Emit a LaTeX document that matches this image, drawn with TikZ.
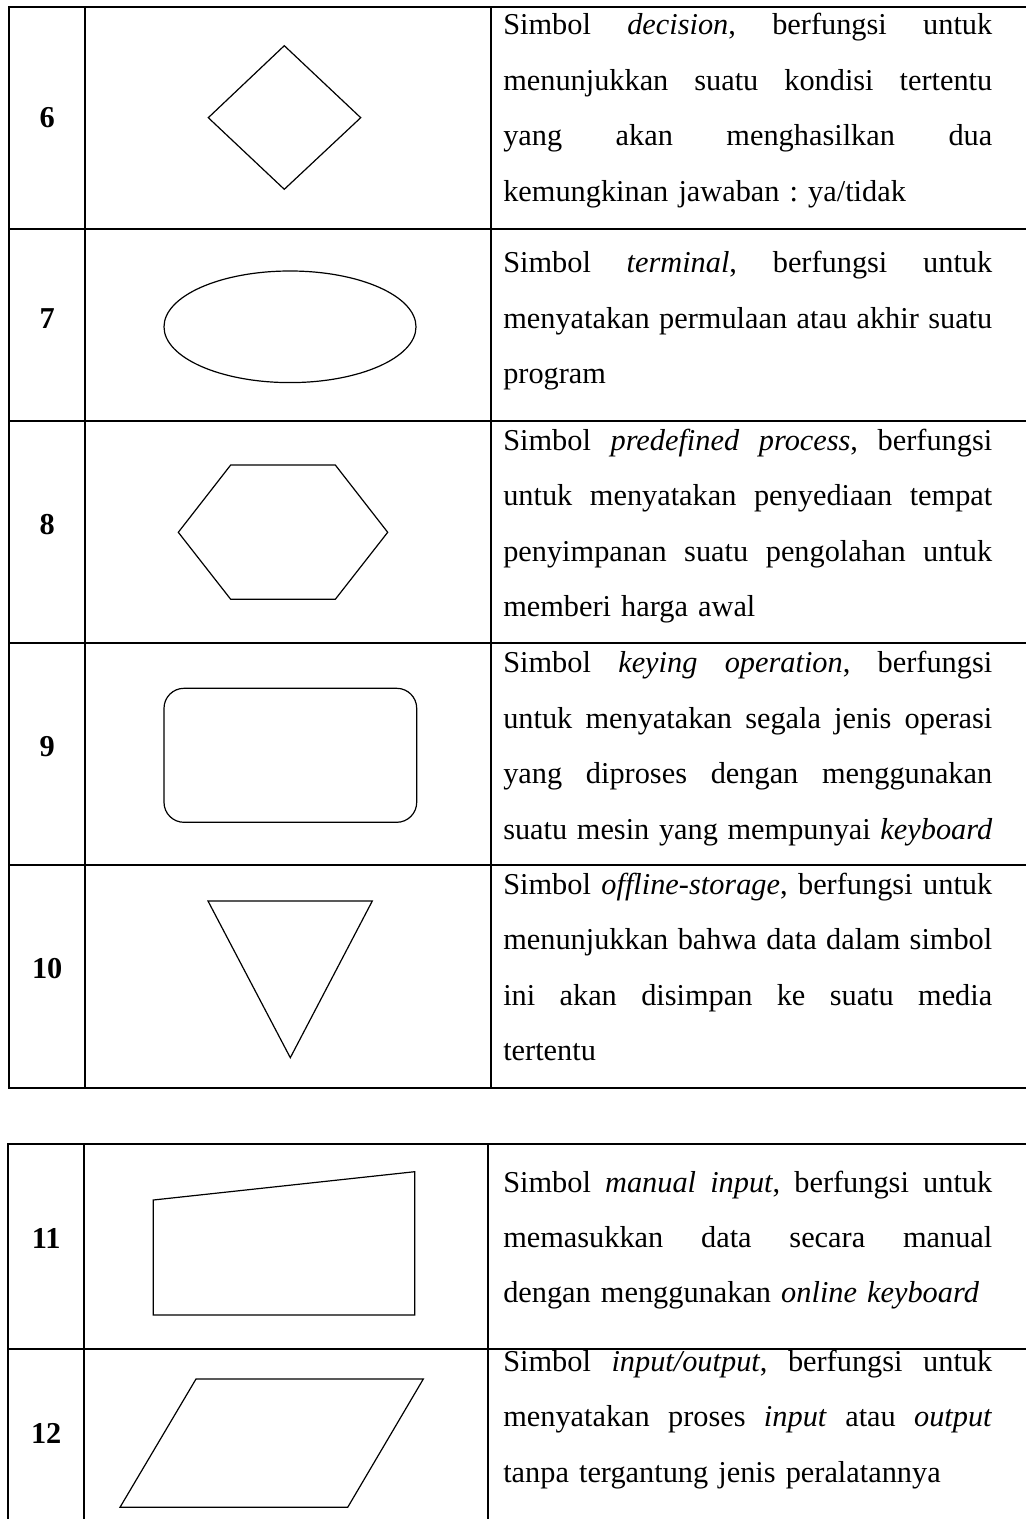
\documentclass[tikz,border=0pt]{standalone}
\usepackage{fontspec}
\setmainfont{Liberation Serif}
\newcommand\jl[1]{\leavevmode\hbox to 366.75pt{\spaceskip=0.25em plus 1fil minus 0.08em\xspaceskip=\spaceskip #1}}
\begin{document}
\begin{tikzpicture}[x=0.75pt,y=-0.75pt,
  grid/.style={line width=1.5pt,line cap=rect},
  shp/.style={line width=0.9pt,line join=miter},
  num/.style={font=\fontsize{22.75}{41.6}\selectfont\bfseries,inner sep=0pt,anchor=center},
  desc/.style={font=\fontsize{22.75}{41.6}\selectfont\frenchspacing,inner sep=0pt,anchor=base west,align=left,text width=366.75pt}]
\useasboundingbox (0,0) rectangle (1025,1519);
% table 1 grid
\foreach \y in {7.3,229.5,420.7,642.7,865,1087.7} \draw[grid] (9,\y) -- (1025,\y);
\foreach \x in {9,85.3,491} \draw[grid] (\x,7.3) -- (\x,1087.7);
% table 2 grid
\foreach \y in {1143.7,1349} \draw[grid] (8.3,\y) -- (1025,\y);
\foreach \x in {8.3,84,488} \draw[grid] (\x,1143.7) -- (\x,1519);
% numbers
\node[num] (n6) at (47.2,117.7) {6};
\node[num] (n7) at (47.2,318.3) {7};
\node[num] (n8) at (47.2,525) {8};
\node[num] (n9) at (47.2,746.7) {9};
\node[num] (n10) at (47.2,968.3) {10};
\node[num] (n11) at (46.2,1238.3) {11};
\node[num] (n12) at (46.2,1433.3) {12};
% shapes
\draw[shp] (284.3,45.7) -- (360.7,117.7) -- (284.3,189.3) -- (208.3,117.7) -- cycle;
\draw[shp] (290,326.8) ellipse [x radius=126, y radius=55.8];
\draw[shp] (230.7,465) -- (335.3,465) -- (387.7,532.3) -- (335.3,599.3) -- (230.7,599.3) -- (178.3,532.3) -- cycle;
\draw[shp,rounded corners=15pt] (164,688.3) rectangle (416.7,822.3);
\draw[shp] (208,901) -- (372.3,901) -- (290.3,1057.7) -- cycle;
\draw[shp] (153.3,1200) -- (414.7,1171.7) -- (414.7,1315) -- (153.3,1315) -- cycle;
\draw[shp] (196,1379) -- (423.3,1379) -- (347.7,1507.3) -- (120,1507.3) -- cycle;
% descriptions
\node[desc] (d6) at (503,35) {\jl{Simbol \textit{decision}, berfungsi untuk}\\
\jl{menunjukkan suatu kondisi tertentu}\\
\jl{yang akan menghasilkan dua}\\
kemungkinan jawaban : ya/tidak};
\node[desc] (d7) at (503,272.7) {\jl{Simbol \textit{terminal}, berfungsi untuk}\\
\jl{menyatakan permulaan atau akhir suatu}\\
program};
\node[desc] (d8) at (503,450.5) {\jl{Simbol \textit{predefined process}, berfungsi}\\
\jl{untuk menyatakan penyediaan tempat}\\
\jl{penyimpanan suatu pengolahan untuk}\\
memberi harga awal};
\node[desc] (d9) at (503,672.7) {\jl{Simbol \textit{keying operation}, berfungsi}\\
\jl{untuk menyatakan segala jenis operasi}\\
\jl{yang diproses dengan menggunakan}\\
\jl{suatu mesin yang mempunyai \textit{keyboard}}};
\node[desc] (d10) at (503,894.4) {\jl{Simbol \textit{offline-storage}, berfungsi untuk}\\
\jl{menunjukkan bahwa data dalam simbol}\\
\jl{ini akan disimpan ke suatu media}\\
tertentu};
\node[desc] (d11) at (503,1192) {\jl{Simbol \textit{manual input}, berfungsi untuk}\\
\jl{memasukkan data secara manual}\\
dengan menggunakan \textit{online keyboard}};
\node[desc] (d12) at (503,1371.5) {\jl{Simbol \textit{input/output}, berfungsi untuk}\\
\jl{menyatakan proses \textit{input} atau \textit{output}}\\
tanpa tergantung jenis peralatannya};
\end{tikzpicture}
\end{document}
